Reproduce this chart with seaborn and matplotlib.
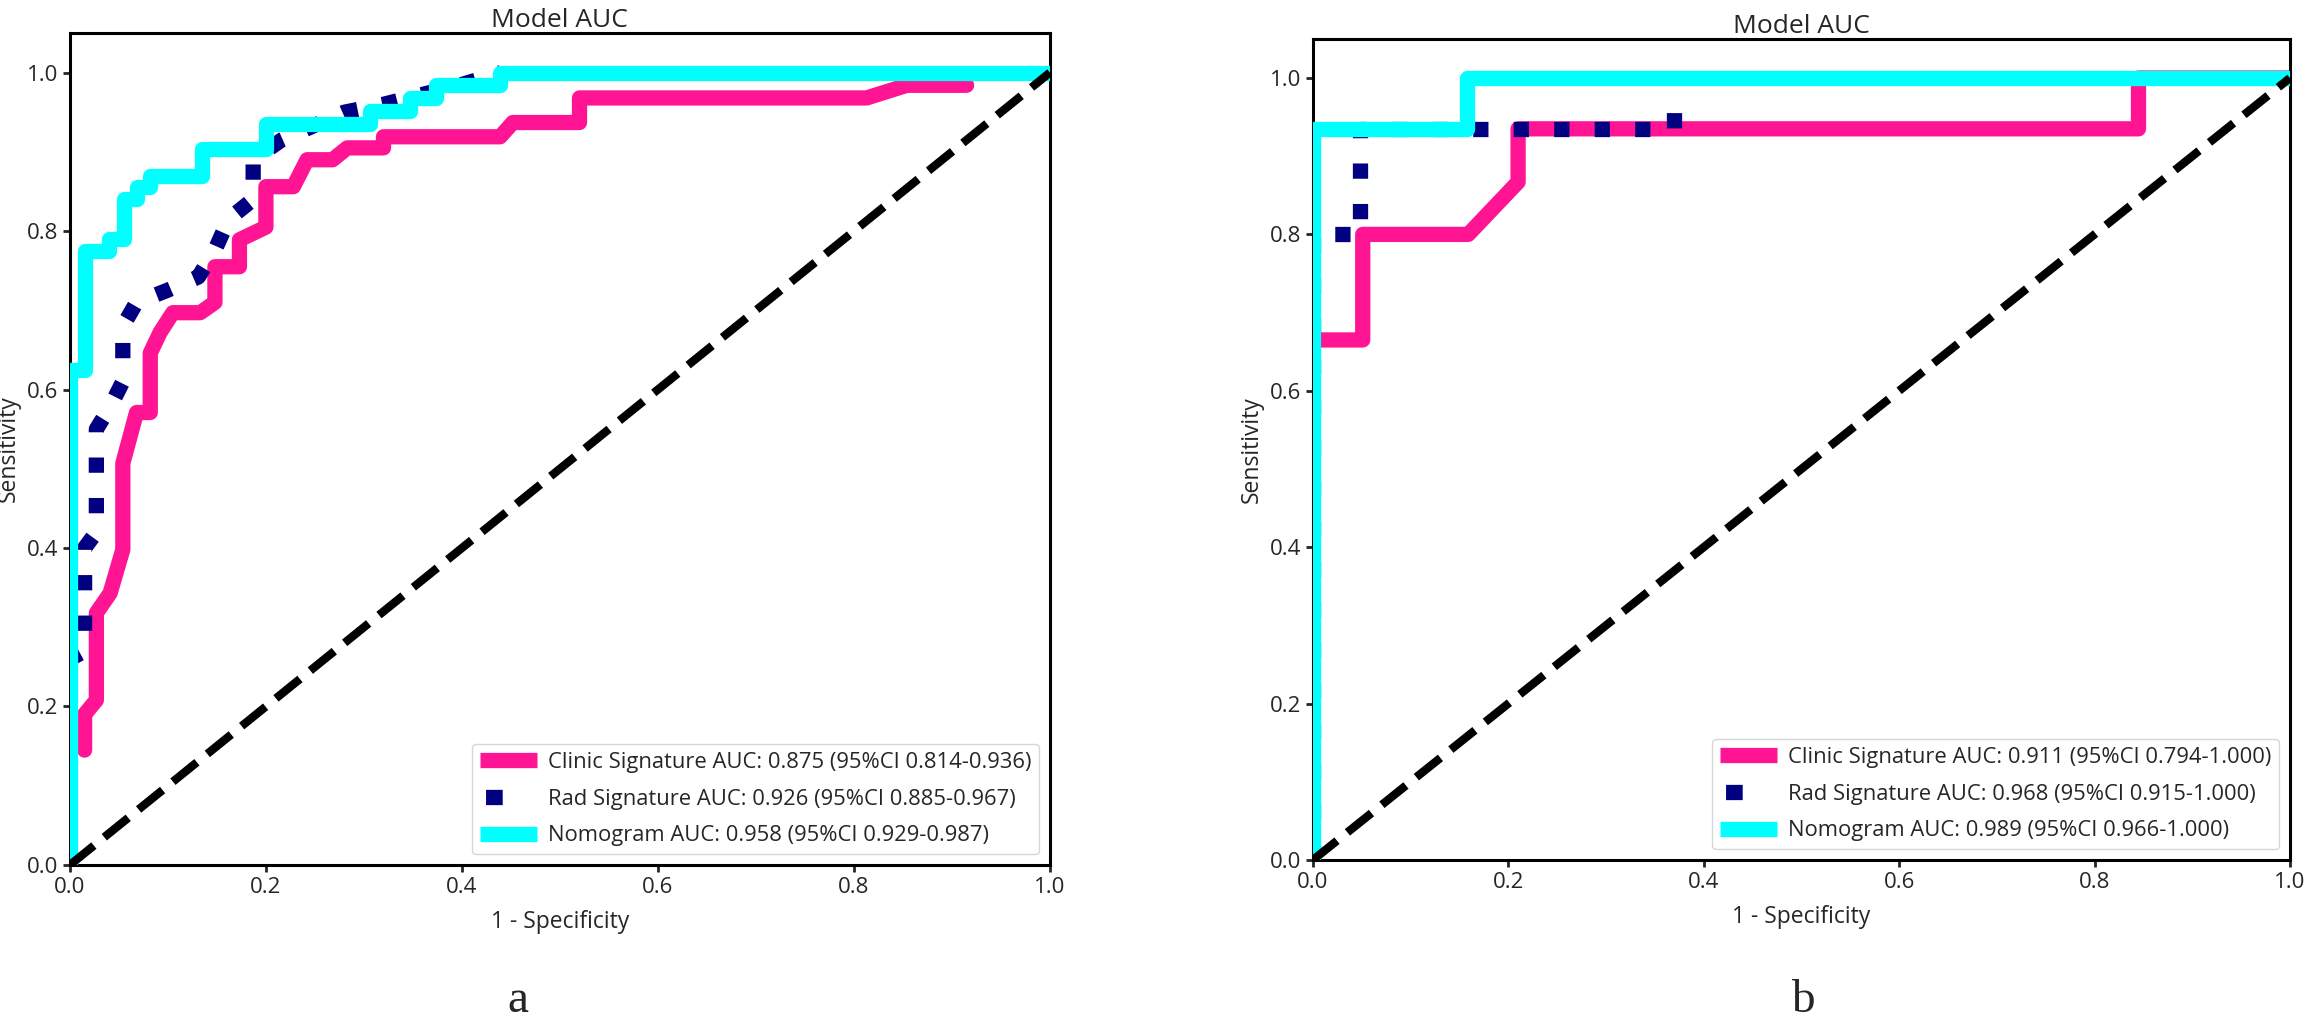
import numpy as np
import matplotlib
matplotlib.use("Agg")
import matplotlib.pyplot as plt
import seaborn as sns

sns.set_style("ticks")
plt.rcParams['font.family'] = ['Open Sans', 'DejaVu Sans']

# ---------------- panel a (training) ----------------
a_clinic_fpr = [0.015, 0.015, 0.027, 0.027, 0.041, 0.054, 0.054, 0.068, 0.082, 0.082, 0.092,
                0.105, 0.133, 0.148, 0.148, 0.173, 0.173, 0.200, 0.200, 0.228, 0.242, 0.268,
                0.283, 0.320, 0.320, 0.439, 0.452, 0.520, 0.520, 0.813, 0.854, 0.915]
a_clinic_tpr = [0.145, 0.190, 0.208, 0.318, 0.343, 0.398, 0.507, 0.571, 0.571, 0.646, 0.672,
                0.697, 0.697, 0.710, 0.755, 0.755, 0.789, 0.805, 0.856, 0.856, 0.890, 0.890,
                0.905, 0.905, 0.919, 0.919, 0.937, 0.937, 0.968, 0.968, 0.984, 0.984]

a_rad_fpr = [0.0, 0.0, 0.015, 0.015, 0.027, 0.027, 0.041, 0.054, 0.054, 0.068, 0.099, 0.131,
             0.148, 0.162, 0.187, 0.187, 0.216, 0.280, 0.320, 0.400, 0.440]
a_rad_tpr = [0.0, 0.260, 0.270, 0.400, 0.420, 0.550, 0.578, 0.610, 0.680, 0.710, 0.725, 0.742,
             0.776, 0.815, 0.840, 0.890, 0.915, 0.950, 0.960, 0.985, 1.0]

a_nomo_fpr = [0.0, 0.0, 0.015, 0.015, 0.040, 0.040, 0.055, 0.055, 0.068, 0.068, 0.082, 0.082,
              0.135, 0.135, 0.200, 0.200, 0.306, 0.306, 0.347, 0.347, 0.374, 0.374, 0.439,
              0.439, 1.0]
a_nomo_tpr = [0.0, 0.625, 0.625, 0.775, 0.775, 0.790, 0.790, 0.840, 0.840, 0.856, 0.856, 0.870,
              0.870, 0.903, 0.903, 0.935, 0.935, 0.952, 0.952, 0.968, 0.968, 0.984, 0.984,
              1.0, 1.0]

a_labels = ['Clinic Signature AUC: 0.875 (95%CI 0.814-0.936)',
            'Rad Signature AUC: 0.926 (95%CI 0.885-0.967)',
            'Nomogram AUC: 0.958 (95%CI 0.929-0.987)']

# ---------------- panel b (validation) ----------------
b_clinic_fpr = [0.0, 0.0, 0.051, 0.051, 0.159, 0.210, 0.210, 0.845, 0.845, 1.0]
b_clinic_tpr = [0.0, 0.665, 0.665, 0.800, 0.800, 0.867, 0.935, 0.935, 1.0, 1.0]

b_rad_fpr = [0.0, 0.0, 0.048, 0.048, 0.370, 0.370]
b_rad_tpr = [0.0, 0.800, 0.800, 0.935, 0.935, 0.975]

b_nomo_fpr = [0.0, 0.0, 0.158, 0.158, 1.0]
b_nomo_tpr = [0.0, 0.935, 0.935, 1.0, 1.0]

b_labels = ['Clinic Signature AUC: 0.911 (95%CI 0.794-1.000)',
            'Rad Signature AUC: 0.968 (95%CI 0.915-1.000)',
            'Nomogram AUC: 0.989 (95%CI 0.966-1.000)']

diag = [0.0, 1.0]
ticks = [0.0, 0.2, 0.4, 0.6, 0.8, 1.0]
colors = ['#FF1493', '#000080', '#00FFFF']

fig = plt.figure(figsize=(23.07, 10.24), dpi=100)
ax_a = fig.add_axes([0.0303, 0.1553, 0.4248, 0.8125])
ax_b = fig.add_axes([0.5691, 0.1602, 0.4235, 0.8018])


def draw_panel(ax, curves, labels):
    for i, ((fpr, tpr), lab, c) in enumerate(zip(curves, labels, colors)):
        ls = ':' if i == 1 else '-'
        sns.lineplot(x=fpr, y=tpr, ax=ax, sort=False, estimator=None, color=c, lw=11,
                     linestyle=ls, label=lab, solid_capstyle='round', solid_joinstyle='round',
                     zorder=2 + i)
    sns.lineplot(x=diag, y=diag, ax=ax, sort=False, estimator=None, color='black', lw=6,
                 linestyle='--', zorder=6)
    ax.set_xlim(0, 1)
    ax.set_ylim(0, 1.05)
    ax.set_xticks(ticks)
    ax.set_yticks(ticks)
    ax.tick_params(labelsize=16, width=2, length=5)
    for s in ax.spines.values():
        s.set_linewidth(2.2)
        s.set_color('black')
    ax.set_title('Model AUC', fontsize=19, pad=3)
    ax.set_xlabel('1 - Specificity', fontsize=16.5, labelpad=9)
    ax.set_ylabel('Sensitivity', fontsize=16.5, labelpad=4)
    leg = ax.legend(loc='lower right', fontsize=15.8, handlelength=2.6, labelspacing=0.72,
                    borderaxespad=0.5, handletextpad=0.5, borderpad=0.35)
    hl = leg.get_lines()
    for h in hl:
        h.set_solid_capstyle('butt')
    # single square for the dotted handle
    hl[1].set_linestyle((48 / 11, (12 / 11, 40 / 11)))


draw_panel(ax_a, [(a_clinic_fpr, a_clinic_tpr), (a_rad_fpr, a_rad_tpr), (a_nomo_fpr, a_nomo_tpr)],
           a_labels)
draw_panel(ax_b, [(b_clinic_fpr, b_clinic_tpr), (b_rad_fpr, b_rad_tpr), (b_nomo_fpr, b_nomo_tpr)],
           b_labels)

fig.text(518 / 2307, 0.012, 'a', fontsize=34, family='Liberation Serif', ha='center', va='baseline')
fig.text(1803 / 2307, 0.012, 'b', fontsize=34, family='Liberation Serif', ha='center', va='baseline')

fig.savefig('out.png', dpi=100)
